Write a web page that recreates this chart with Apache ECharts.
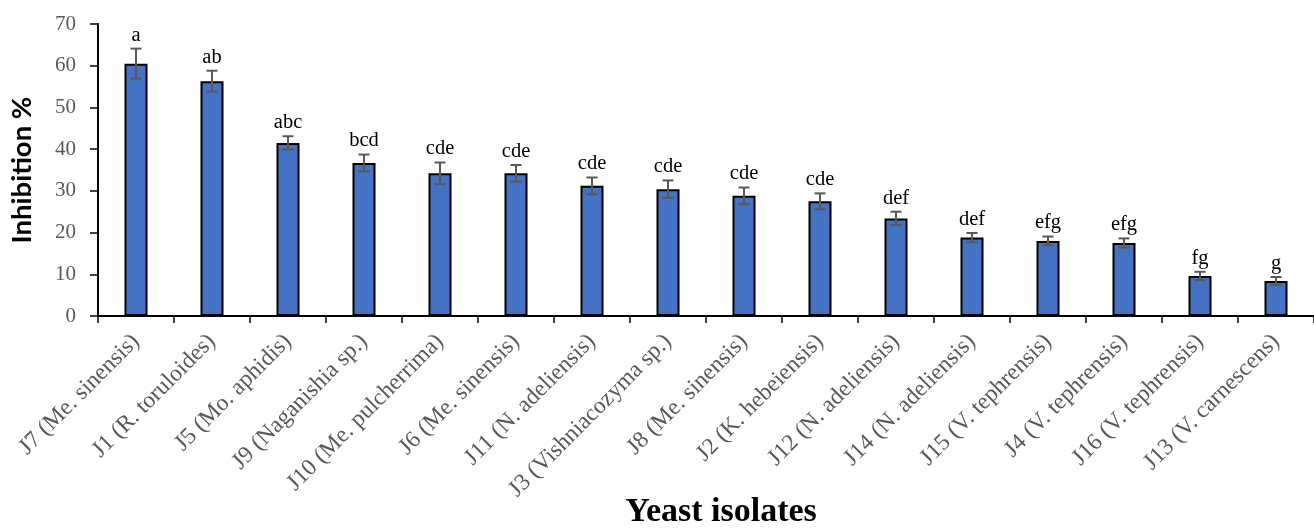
<!DOCTYPE html>
<html>
<head>
<meta charset="utf-8">
<script src="https://cdn.jsdelivr.net/npm/echarts@6/dist/echarts.min.js"></script>
<style>html,body{margin:0;padding:0;background:#fff}#c{width:1314px;height:529px}</style>
</head>
<body>
<div id="c"></div>
<script>
const categories = ["J7 (Me. sinensis)","J1 (R. toruloides)","J5 (Mo. aphidis)","J9 (Naganishia sp.)","J10 (Me. pulcherrima)","J6 (Me. sinensis)","J11 (N. adeliensis)","J3 (Vishniacozyma sp.)","J8 (Me. sinensis)","J2 (K. hebeiensis)","J12 (N. adeliensis)","J14 (N. adeliensis)","J15 (V. tephrensis)","J4 (V. tephrensis)","J16 (V. tephrensis)","J13 (V. carnescens)"];
const means = [60.5, 56.3, 41.5, 36.7, 34.2, 34.2, 31.2, 30.4, 28.8, 27.5, 23.4, 18.8, 18.0, 17.5, 9.6, 8.4];
const errors = [3.6, 2.5, 1.6, 2.0, 2.6, 2.0, 2.0, 2.1, 2.0, 1.9, 1.6, 1.1, 1.05, 1.1, 1.0, 0.95];
const letters = ["a","ab","abc","bcd","cde","cde","cde","cde","cde","cde","def","def","efg","efg","fg","g"];
const yTicks = [0, 10, 20, 30, 40, 50, 60, 70];

const chart = echarts.init(document.getElementById('c'), null, {renderer: 'canvas'});
const errData = means.map((m, i) => [i, m, errors[i]]);
chart.setOption({
  animation: false,
  grid: {left: 98, top: 24, height: 292, width: 1224, containLabel: false},
  xAxis: {
    type: 'category', data: categories,
    axisLine: {lineStyle: {color: '#000', width: 2}},
    axisTick: {show: true, length: 7, lineStyle: {color: '#000', width: 1.5}},
    axisLabel: {rotate: 45, interval: 0, margin: 22, color: '#595959', fontFamily: 'Liberation Serif', fontSize: 23.5}
  },
  yAxis: {
    type: 'value', min: yTicks[0], max: yTicks[yTicks.length - 1], interval: 10,
    splitLine: {show: false},
    axisLine: {show: true, lineStyle: {color: '#000', width: 2}},
    axisTick: {show: true, length: 8, lineStyle: {color: '#000', width: 1.5}},
    axisLabel: {margin: 22, color: '#595959', fontFamily: 'Liberation Serif', fontSize: 21}
  },
  graphic: [
    {type: 'text', x: 22, y: 170, rotation: Math.PI / 2, style: {text: 'Inhibition %', font: 'bold 27.5px Lato, "Liberation Sans"', fill: '#000', align: 'center', verticalAlign: 'middle'}},
    {type: 'text', x: 721, y: 512, style: {text: 'Yeast isolates', font: 'bold 34px "Liberation Serif"', fill: '#000', align: 'center', verticalAlign: 'middle'}}
  ],
  series: [
    {
      type: 'bar', data: means, barWidth: 23,
      itemStyle: {color: '#4472C4', borderColor: '#000', borderWidth: 2}
    },
    {
      type: 'custom', data: errData, z: 10,
      renderItem: function (params, api) {
        const i = api.value(0), m = api.value(1), e = api.value(2);
        const top = api.coord([i, m + e]);
        const bot = api.coord([i, m - e]);
        const hw = 5.5;
        const ls = {stroke: '#595959', lineWidth: 2};
        return {
          type: 'group',
          children: [
            {type: 'line', shape: {x1: top[0], y1: top[1], x2: bot[0], y2: bot[1]}, style: ls},
            {type: 'line', shape: {x1: top[0] - hw, y1: top[1], x2: top[0] + hw, y2: top[1]}, style: ls},
            {type: 'line', shape: {x1: bot[0] - hw, y1: bot[1], x2: bot[0] + hw, y2: bot[1]}, style: ls},
            {type: 'text', style: {text: letters[params.dataIndex], x: top[0], y: top[1] - 3, align: 'center', verticalAlign: 'bottom', font: '20.5px "Liberation Serif"', fill: '#000'}}
          ]
        };
      }
    }
  ]
});
</script>
</body>
</html>
